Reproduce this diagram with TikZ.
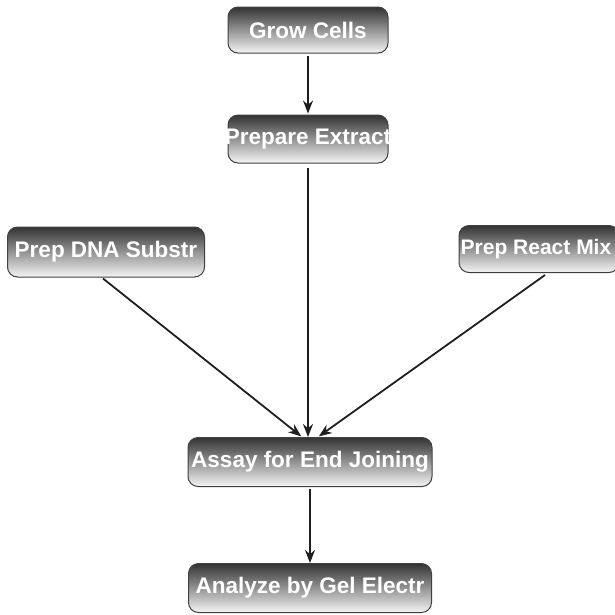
\documentclass[tikz,border=0pt]{standalone}
\usepackage{fontspec}
\setmainfont{Liberation Sans}
\usetikzlibrary{arrows.meta}
\usetikzlibrary{positioning, shapes.geometric}

\tikzset{
	stepbox/.style={rectangle, draw=black!75, line width=1pt, rounded corners=10pt,
		top color=black!80, bottom color=black!4, text=white, inner sep=0pt,
		font=\fontsize{22.5}{27}\selectfont\bfseries},
	flow/.style={draw=black!88, line width=1.8pt, -{Stealth[length=13pt, width=10pt]}}
}
\newcommand{\steptext}[1]{\makebox[0pt]{#1}}

\begin{document}
\begin{tikzpicture}[x=1pt, y=-1pt]
	\useasboundingbox (0,0) rectangle (615,614);
	\clip (0,0) rectangle (615,614);
	% --- Steps ---
	\node[stepbox, minimum width=160pt, minimum height=46pt] (grow) at (308, 30) {\steptext{Grow Cells}};
	\node[stepbox, minimum width=160pt, minimum height=48pt] (extract) at (308, 139) {\steptext{Prepare Extract}};
	\node[stepbox, minimum width=197pt, minimum height=50pt] (dna) at (106, 252) {\steptext{Prep DNA Substr}};
	\node[stepbox, minimum width=160pt, minimum height=47pt, font=\fontsize{21}{25}\selectfont\bfseries] (react) at (539, 249) {\steptext{\hspace{-6pt}Prep React Mix}};
	\node[stepbox, minimum width=244pt, minimum height=49pt] (assay) at (310, 462) {\steptext{Assay for End Joining}};
	\node[stepbox, minimum width=243pt, minimum height=49pt] (gel) at (310, 588) {\steptext{Analyze by Gel Electr}};

	% --- Connectors ---
	\draw[flow, shorten <=2pt, shorten >=1pt] (grow.south) -- (extract.north);
	\draw[flow, shorten <=4pt] (extract.south) -- (extract.south |- assay.north);
	\draw[flow, shorten >=1pt] ([xshift=-3pt, yshift=-1pt]dna.south) -- ([xshift=-8pt]assay.north);
	\draw[flow, shorten >=1pt] ([xshift=6pt, yshift=-2pt]react.south) -- ([xshift=8pt]assay.north);
	\draw[flow, shorten <=2pt] (assay.south) -- (gel.north);
\end{tikzpicture}
\end{document}
